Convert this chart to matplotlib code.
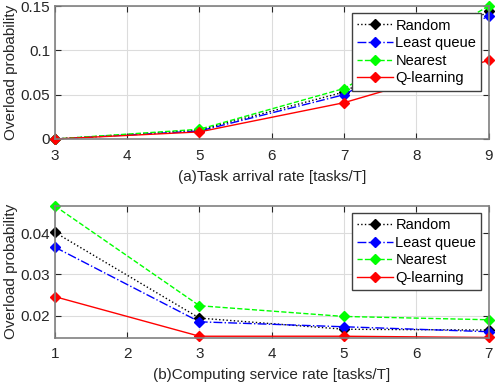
import numpy as np
import matplotlib.pyplot as plt

plt.rcParams['font.family'] = ['Liberation Sans', 'DejaVu Sans']

# (a) task arrival rate
arrival = [3, 5, 7, 9]
arr_random = [0.0, 0.010, 0.053, 0.144]
arr_least = [0.0, 0.009, 0.050, 0.139]
arr_nearest = [0.0, 0.011, 0.057, 0.150]
arr_qlearn = [0.0, 0.008, 0.041, 0.0887]

# (b) computing service rate
service = [1, 3, 5, 7]
srv_random = [0.0402, 0.0194, 0.0167, 0.0165]
srv_least = [0.0366, 0.0185, 0.0173, 0.0161]
srv_nearest = [0.0466, 0.0224, 0.0198, 0.0190]
srv_qlearn = [0.0246, 0.0150, 0.0150, 0.0147]

names = ['Random', 'Least queue', 'Nearest', 'Q-learning']
styles = [('k', ':'), ('b', '-.'), ('#00ff00', '--'), ('r', '-')]

fig = plt.figure(figsize=(4.95, 3.85), dpi=100)
ax1 = fig.add_axes([0.111, 0.639, 0.876, 0.345])
ax2 = fig.add_axes([0.111, 0.123, 0.876, 0.343])

gray = '#262626'


def draw(ax, x, series, xlabel):
    for ys, name, (c, ls) in zip(series, names, styles):
        ax.plot(x, ys, color=c, linestyle=ls, marker='D', markersize=5.5,
                markerfacecolor=c, markeredgecolor=c, linewidth=1, label=name,
                clip_on=False)
    ax.grid(True, color='#dcdcdc', linewidth=0.8)
    ax.set_axisbelow(True)
    ax.tick_params(direction='in', top=True, right=True, colors=gray,
                   labelsize=11, length=4, labelcolor=gray)
    ax.tick_params(axis='x', pad=7)
    for s in ax.spines.values():
        s.set_color('#808080')
        s.set_linewidth(1.2)
    ax.set_xlabel(xlabel, fontsize=11, color=gray, labelpad=5)
    ax.set_ylabel('Overload probability', fontsize=11, color=gray, labelpad=2)
    leg = ax.legend(loc='upper right', fontsize=10.5, fancybox=False,
                    framealpha=1, edgecolor='#404040', borderpad=0.35,
                    labelspacing=0.25, handlelength=2.5, handletextpad=0.15,
                    borderaxespad=0.5)
    leg.get_frame().set_linewidth(1.0)


draw(ax1, arrival, [arr_random, arr_least, arr_nearest, arr_qlearn],
     '(a)Task arrival rate [tasks/T]')
ax1.set_xlim(3, 9)
ax1.set_ylim(0, 0.15)
ax1.set_yticks([0, 0.05, 0.1, 0.15])
ax1.set_yticklabels(['0', '0.05', '0.1', '0.15'])

draw(ax2, service, [srv_random, srv_least, srv_nearest, srv_qlearn],
     '(b)Computing service rate [tasks/T]')
ax2.set_xlim(1, 7)
ax2.set_ylim(0.01466, 0.0467)
ax2.set_yticks([0.02, 0.03, 0.04])

fig.savefig('out.png', dpi=100)
